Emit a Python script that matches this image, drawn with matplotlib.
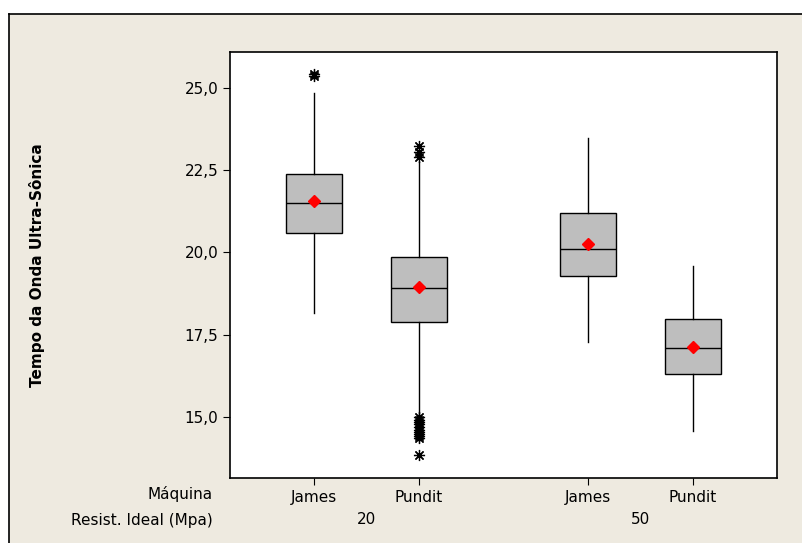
import matplotlib
matplotlib.use("Agg")
import matplotlib.pyplot as plt
from matplotlib.patches import Rectangle
from matplotlib.transforms import blended_transform_factory

# Box statistics
maquina = ["James", "Pundit", "James", "Pundit"]
resist = ["20", "50"]
positions = [0, 1, 2.61, 3.61]
q1 = [20.59, 17.89, 19.29, 16.31]
med = [21.50, 18.92, 20.10, 17.10]
q3 = [22.39, 19.86, 21.20, 17.98]
whislo = [18.16, 15.06, 17.28, 14.57]
whishi = [24.85, 22.75, 23.48, 19.59]
means = [21.56, 18.95, 20.26, 17.13]
fliers = [
    [25.35, 25.42],
    [23.24, 23.05, 22.90, 15.0, 14.92, 14.85, 14.78, 14.7, 14.62, 14.55, 14.48, 14.42, 14.35, 13.85],
    [],
    [],
]
yticks = [15.0, 17.5, 20.0, 22.5, 25.0]

beige = "#EEEAE0"

fig = plt.figure(figsize=(8.02, 5.43), dpi=100)
fig.patch.set_facecolor("white")
top = 1 - 14 / 543
left = 9 / 802
fig.patches.append(Rectangle((left, 0), 1, top, transform=fig.transFigure,
                             facecolor=beige, edgecolor="none", zorder=-10))
fig.add_artist(plt.Line2D([left, 1], [top, top], transform=fig.transFigure,
                          color="black", lw=1.2, zorder=-5))
fig.add_artist(plt.Line2D([left, left], [0, top], transform=fig.transFigure,
                          color="black", lw=1.2, zorder=-5))

ax = fig.add_axes([230 / 802, 1 - 478 / 543, 547 / 802, 426 / 543])
ax.set_facecolor("white")

stats = []
for i in range(4):
    stats.append(dict(q1=q1[i], med=med[i], q3=q3[i], whislo=whislo[i],
                      whishi=whishi[i], fliers=fliers[i], mean=means[i]))

ax.bxp(stats, positions=positions, widths=0.533, patch_artist=True,
       showmeans=True, showcaps=False,
       boxprops=dict(facecolor="#BEBEBE", edgecolor="black", linewidth=1),
       medianprops=dict(color="black", linewidth=1),
       whiskerprops=dict(color="black", linewidth=1),
       meanprops=dict(marker="D", markerfacecolor="red", markeredgecolor="red", markersize=6),
       flierprops=dict(marker=(8, 2, 0), markeredgecolor="black", markeredgewidth=0.9,
                       markersize=8, linestyle="none"))

ax.set_xlim(-0.8, 4.41)
ax.set_ylim(13.15, 26.09)
ax.set_yticks(yticks)
ax.set_yticklabels([f"{v:.1f}".replace(".", ",") for v in yticks], fontsize=11)
ax.set_xticks(positions)
ax.set_xticklabels(maquina, fontsize=11)
ax.tick_params(direction="out", length=5, top=False, right=False)
for s in ax.spines.values():
    s.set_linewidth(1.2)

ax.set_ylabel("Tempo da Onda Ultra-Sônica", fontsize=11, fontweight="bold")
ax.yaxis.set_label_coords((45 - 230) / 547, 0.5)

fig.text(213 / 802, 1 - 494 / 543, "Máquina", ha="right", va="center", fontsize=11)
fig.text(213 / 802, 1 - 520 / 543, "Resist. Ideal (Mpa)", ha="right", va="center", fontsize=11)
trans = blended_transform_factory(ax.transData, fig.transFigure)
for j, lab in enumerate(resist):
    xm = (positions[2 * j] + positions[2 * j + 1]) / 2
    ax.text(xm, 1 - 520 / 543, lab, transform=trans, ha="center", va="center", fontsize=11)

fig.savefig("out.png", dpi=100, facecolor=fig.get_facecolor())
